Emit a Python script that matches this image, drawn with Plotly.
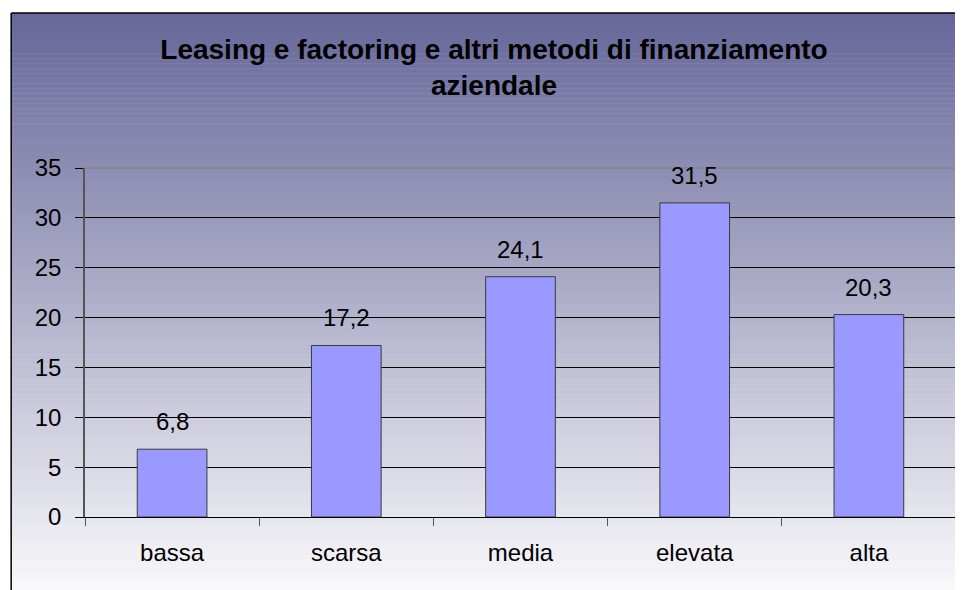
import plotly.graph_objects as go

categories = ["bassa", "scarsa", "media", "elevata", "alta"]
values = [6.8, 17.2, 24.1, 31.5, 20.3]
y_ticks = [0, 5, 10, 15, 20, 25, 30, 35]
title_text = "<b>Leasing e factoring e altri metodi di finanziamento<br>aziendale</b>"

# page has an 8px body margin; work in reference-pixel coordinates
OFF = 8
W, H = 963 - OFF, 590 - OFF
L, R, T, B = 85, 958, 168, 517          # plot area in reference pixels
pw, ph = R - L, B - T
FONT = "Liberation Sans, Arial, sans-serif"

def px_x(p):
    return (p - L) / pw

def px_y(p):
    return (B - p) / ph

fig = go.Figure()
fig.add_trace(go.Bar(
    x=categories, y=values,
    marker=dict(color="#9999FF", line=dict(color="#3a3a3a", width=1)),
    width=0.4, showlegend=False, hoverinfo="skip",
))

shapes = []
# gradient chart-area background
top_px, bot_px = 13, 615
n = 120
c0 = (102, 102, 153)
c1 = (255, 255, 255)
for i in range(n):
    y0 = top_px + (bot_px - top_px) * i / n
    y1 = top_px + (bot_px - top_px) * (i + 1) / n
    f = (i + 0.5) / n
    col = tuple(round(a + (b - a) * f) for a, b in zip(c0, c1))
    shapes.append(dict(type="rect", xref="paper", yref="paper",
                       x0=px_x(11), x1=px_x(975), y0=px_y(y1 + 0.5), y1=px_y(y0),
                       fillcolor="rgb(%d,%d,%d)" % col, line=dict(width=0), layer="below"))
# outer chart border (left and top)
shapes.append(dict(type="line", xref="paper", yref="paper",
                   x0=px_x(11), x1=px_x(11), y0=px_y(13), y1=px_y(620),
                   line=dict(color="#000000", width=1.5)))
shapes.append(dict(type="line", xref="paper", yref="paper",
                   x0=px_x(11), x1=px_x(975), y0=px_y(13), y1=px_y(13),
                   line=dict(color="#000000", width=1.5)))
# plot area top border
shapes.append(dict(type="line", xref="paper", yref="paper",
                   x0=0, x1=1, y0=1, y1=1, line=dict(color="#808080", width=1), layer="above"))

annotations = []
for c, v in zip(categories, values):
    annotations.append(dict(x=c, y=v, xref="x", yref="y", text=("%.1f" % v).replace(".", ","),
                            showarrow=False, yanchor="bottom", yshift=12,
                            font=dict(family=FONT, size=24, color="#000000")))

fig.update_layout(
    width=W, height=H,
    margin=dict(l=L - OFF, r=963 - R, t=T - OFF, b=590 - B, pad=0),
    paper_bgcolor="white",
    plot_bgcolor="rgba(0,0,0,0)",
    title=dict(text=title_text, x=(494 - OFF) / W, xref="container", xanchor="center",
               y=1 - (59 - OFF) / H, yref="container", yanchor="top",
               font=dict(family=FONT, size=28, color="#000000")),
    shapes=shapes,
    annotations=annotations,
    bargap=0.6,
    font=dict(family=FONT, size=24, color="#000000"),
)
fig.update_xaxes(
    type="category", tickson="boundaries", ticks="outside", ticklen=8,
    tickcolor="#555555", showline=True, linecolor="#000000", linewidth=1,
    showgrid=False, ticklabelstandoff=14,
    tickfont=dict(family=FONT, size=24, color="#000000"),
)
fig.update_yaxes(
    range=[0, 35], tickvals=y_ticks, ticks="outside", ticklen=8, tickcolor="#000000",
    showline=True, linecolor="#555555", linewidth=1.5, mirror=True,
    showgrid=True, gridcolor="#000000", gridwidth=1, zeroline=False,
    ticklabelstandoff=9,
    tickfont=dict(family=FONT, size=24, color="#000000"),
)

fig.write_html("out.html")
